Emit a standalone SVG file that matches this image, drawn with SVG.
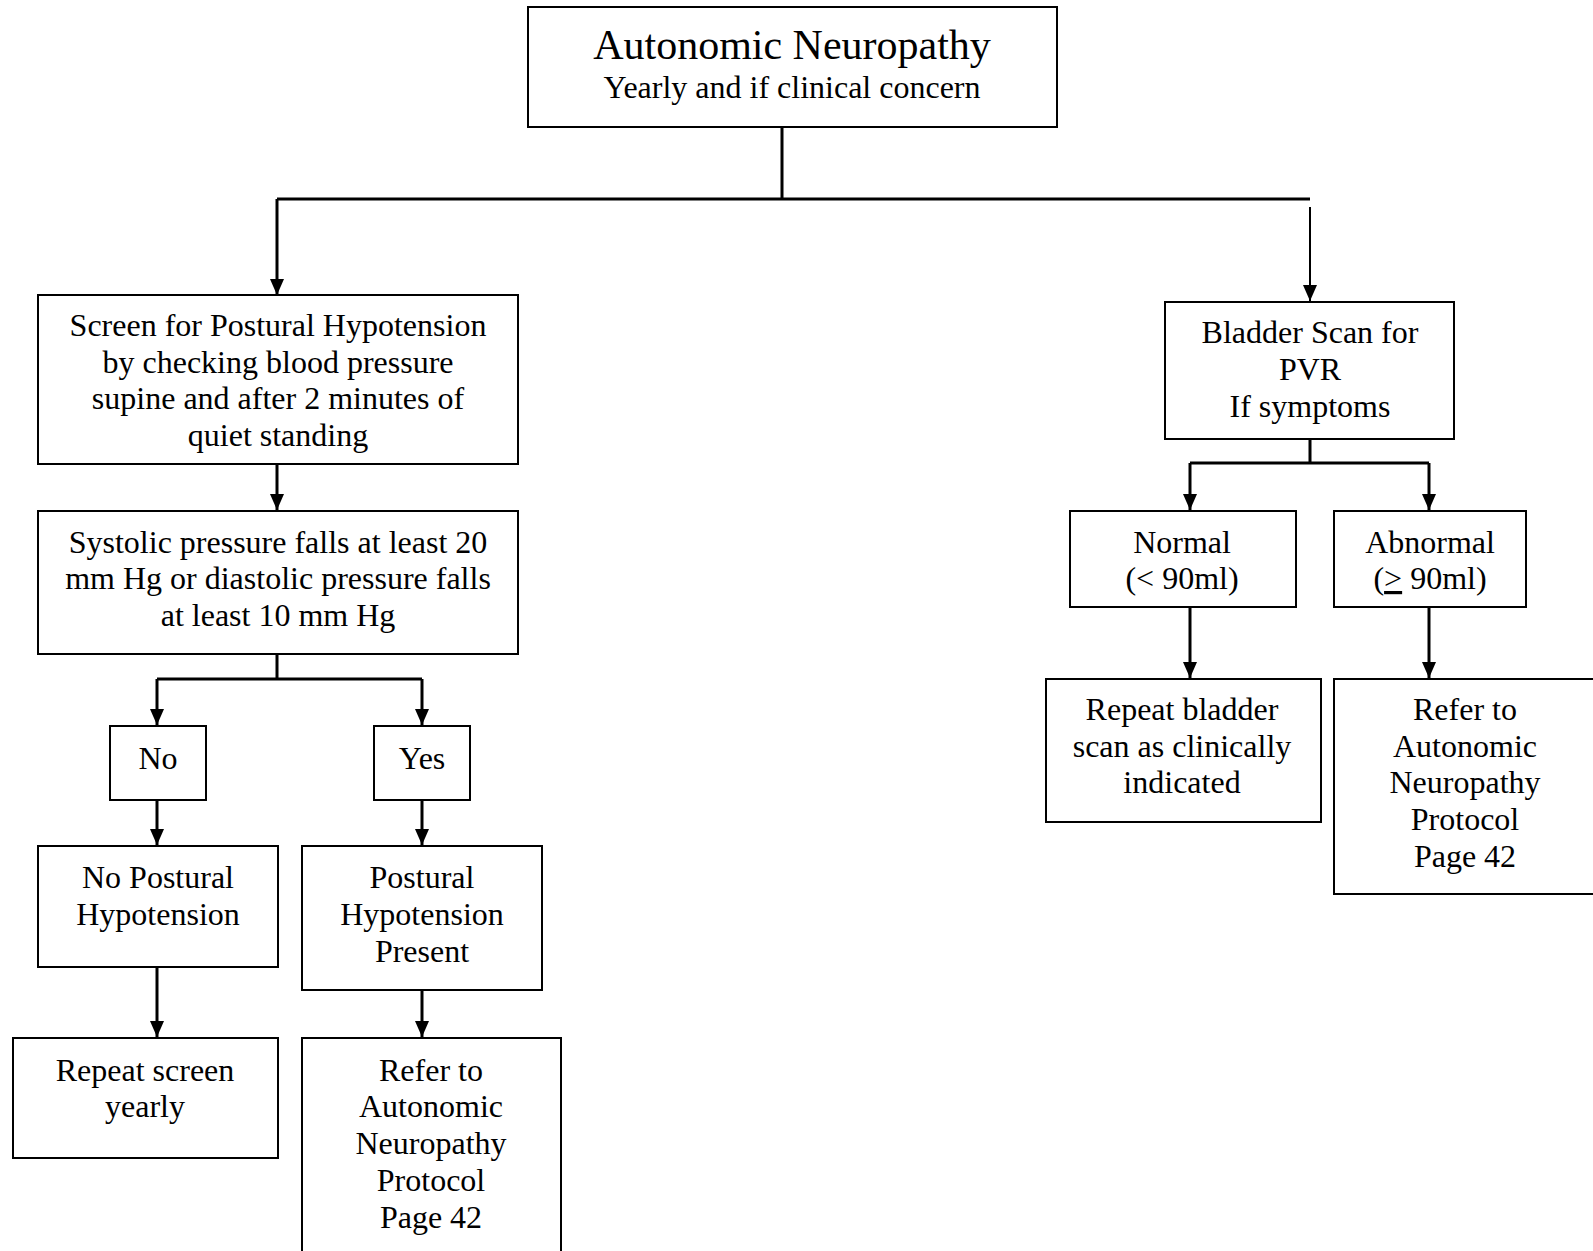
<svg xmlns="http://www.w3.org/2000/svg" width="1593" height="1251" viewBox="0 0 1593 1251">
  <style>
    .box { fill: #ffffff; stroke: #000000; stroke-width: 2; }
    .t { font-family: "Liberation Serif", "Times New Roman", serif; font-size: 32px; fill: #000000; text-anchor: middle; }
    .title { font-size: 42px; }
    .wire { fill: none; stroke: #000000; stroke-width: 3; }
    .thin { fill: none; stroke: #000000; stroke-width: 2; }
  </style>
  <defs>
    <marker id="arrow" viewBox="0 0 16 14" refX="16" refY="7" markerWidth="16" markerHeight="14" markerUnits="userSpaceOnUse" orient="auto">
      <path d="M0,0 L16,7 L0,14 Z" fill="#000000"/>
    </marker>
  </defs>
  <rect width="1593" height="1251" fill="#ffffff"/>

  <!-- connectors -->
  <g id="connectors">
    <path class="wire" d="M782,127 V199 M277,199 H1310"/>
    <path class="wire" d="M277,199 V295" marker-end="url(#arrow)"/>
    <path class="thin" d="M1310,207 V301" marker-end="url(#arrow)"/>
    <path class="wire" d="M277,464 V510" marker-end="url(#arrow)"/>
    <path class="wire" d="M277,654 V679 M157,679 H422"/>
    <path class="wire" d="M157,679 V725" marker-end="url(#arrow)"/>
    <path class="wire" d="M422,679 V725" marker-end="url(#arrow)"/>
    <path class="wire" d="M157,800 V845" marker-end="url(#arrow)"/>
    <path class="wire" d="M422,800 V845" marker-end="url(#arrow)"/>
    <path class="wire" d="M157,967 V1037" marker-end="url(#arrow)"/>
    <path class="wire" d="M422,990 V1037" marker-end="url(#arrow)"/>
    <path class="wire" d="M1310,439 V463 M1190,463 H1429"/>
    <path class="wire" d="M1190,463 V510" marker-end="url(#arrow)"/>
    <path class="wire" d="M1429,463 V510" marker-end="url(#arrow)"/>
    <path class="wire" d="M1190,606 V678" marker-end="url(#arrow)"/>
    <path class="wire" d="M1429,606 V678" marker-end="url(#arrow)"/>
  </g>

  <g id="node-autonomic">
    <rect class="box" x="528" y="7" width="529" height="120"/>
    <text class="t title" x="792" y="59">Autonomic Neuropathy</text>
    <text class="t" x="792" y="98">Yearly and if clinical concern</text>
  </g>

  <g id="node-screen">
    <rect class="box" x="38" y="295" width="480" height="169"/>
    <text class="t" x="278" y="336">Screen for Postural Hypotension</text>
    <text class="t" x="278" y="373">by checking blood pressure</text>
    <text class="t" x="278" y="409">supine and after 2 minutes of</text>
    <text class="t" x="278" y="446">quiet standing</text>
  </g>

  <g id="node-systolic">
    <rect class="box" x="38" y="511" width="480" height="143"/>
    <text class="t" x="278" y="553">Systolic pressure falls at least 20</text>
    <text class="t" x="278" y="589">mm Hg or diastolic pressure falls</text>
    <text class="t" x="278" y="626">at least 10 mm Hg</text>
  </g>

  <g id="node-no">
    <rect class="box" x="110" y="726" width="96" height="74"/>
    <text class="t" x="158" y="769">No</text>
  </g>

  <g id="node-yes">
    <rect class="box" x="374" y="726" width="96" height="74"/>
    <text class="t" x="422" y="769">Yes</text>
  </g>

  <g id="node-no-hypotension">
    <rect class="box" x="38" y="846" width="240" height="121"/>
    <text class="t" x="158" y="888">No Postural</text>
    <text class="t" x="158" y="925">Hypotension</text>
  </g>

  <g id="node-hypotension-present">
    <rect class="box" x="302" y="846" width="240" height="144"/>
    <text class="t" x="422" y="888">Postural</text>
    <text class="t" x="422" y="925">Hypotension</text>
    <text class="t" x="422" y="962">Present</text>
  </g>

  <g id="node-repeat-screen">
    <rect class="box" x="13" y="1038" width="265" height="120"/>
    <text class="t" x="145" y="1081">Repeat screen</text>
    <text class="t" x="145" y="1117">yearly</text>
  </g>

  <g id="node-refer-left">
    <rect class="box" x="302" y="1038" width="259" height="230"/>
    <text class="t" x="431" y="1081">Refer to</text>
    <text class="t" x="431" y="1117">Autonomic</text>
    <text class="t" x="431" y="1154">Neuropathy</text>
    <text class="t" x="431" y="1191">Protocol</text>
    <text class="t" x="431" y="1228">Page 42</text>
  </g>

  <g id="node-bladder">
    <rect class="box" x="1165" y="302" width="289" height="137"/>
    <text class="t" x="1310" y="343">Bladder Scan for</text>
    <text class="t" x="1310" y="380">PVR</text>
    <text class="t" x="1310" y="417">If symptoms</text>
  </g>

  <g id="node-normal">
    <rect class="box" x="1070" y="511" width="226" height="96"/>
    <text class="t" x="1182" y="553">Normal</text>
    <text class="t" x="1182" y="589">(&lt; 90ml)</text>
  </g>

  <g id="node-abnormal">
    <rect class="box" x="1334" y="511" width="192" height="96"/>
    <text class="t" x="1430" y="553">Abnormal</text>
    <text class="t" x="1430" y="589">(<tspan text-decoration="underline">&gt;</tspan> 90ml)</text>
  </g>

  <g id="node-repeat-bladder">
    <rect class="box" x="1046" y="679" width="275" height="143"/>
    <text class="t" x="1182" y="720">Repeat bladder</text>
    <text class="t" x="1182" y="757">scan as clinically</text>
    <text class="t" x="1182" y="793">indicated</text>
  </g>

  <g id="node-refer-right">
    <rect class="box" x="1334" y="679" width="280" height="215"/>
    <text class="t" x="1465" y="720">Refer to</text>
    <text class="t" x="1465" y="757">Autonomic</text>
    <text class="t" x="1465" y="793">Neuropathy</text>
    <text class="t" x="1465" y="830">Protocol</text>
    <text class="t" x="1465" y="867">Page 42</text>
  </g>
</svg>
